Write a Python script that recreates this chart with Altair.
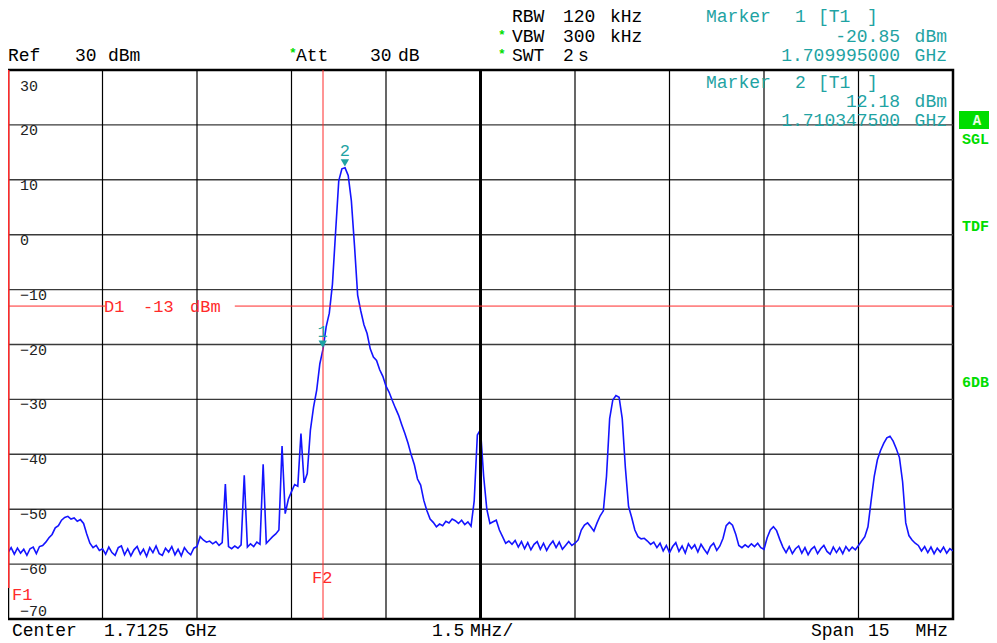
import altair as alt
import pandas as pd

# ---------------- data ----------------
START_MHZ = 0.0          # left edge offset (1.705 GHz)
STEP_MHZ = 0.05          # trace sample spacing (MHz)
SPAN_MHZ = 15.0

level_dbm = [
    # i0-10
    -57.9, -57.0, -58.2, -57.1, -58.0, -57.3, -58.4, -57.2, -56.9, -58.1, -56.8,
    # i11-30
    -56.6, -56.0, -55.2, -54.6, -53.4, -53.0, -52.0, -51.5, -51.3, -51.8,
    -51.6, -52.2, -51.9, -52.6, -54.5, -56.2, -57.0, -56.6, -57.5, -57.2,
    # i31-60
    -58.2, -56.9, -57.9, -58.4, -57.0, -56.7, -58.3, -57.2, -58.5, -57.4,
    -56.8, -58.2, -57.3, -58.6, -57.0, -57.9, -56.7, -58.1, -58.4, -57.1,
    -57.8, -56.8, -58.3, -57.3, -58.5, -57.0, -57.8, -58.3, -57.1, -56.8,
    # i61-68
    -55.0, -55.6, -56.0, -55.8, -56.3, -55.9, -56.6, -56.1,
    # i69-80
    -45.4, -56.8, -57.2, -56.7, -57.1, -56.5, -43.8, -56.9, -56.3, -56.8, -56.0, -56.4,
    # i81-92
    -41.8, -56.2, -55.6, -55.0, -54.5, -53.8, -38.5, -50.8, -48.2, -46.8, -45.5, -45.8,
    # i93-104
    -36.2, -45.2, -43.5, -35.6, -31.4, -28.3, -23.5, -20.85, -16.8, -14.3, -9.0, 0.5,
    # i105-116
    9.8, 12.0, 12.18, 10.8, 6.2, -2.0, -11.0, -13.9, -16.4, -18.0, -20.8, -22.3,
    # i117-128
    -22.9, -24.6, -25.8, -27.6, -28.7, -30.2, -31.6, -32.9, -34.6, -36.2, -38.0, -40.1,
    # i129-140
    -41.9, -44.5, -45.6, -48.4, -50.3, -51.8, -52.4, -53.2, -52.7, -53.0, -52.2, -52.5,
    # i141-152
    -51.8, -52.1, -52.6, -52.0, -52.8, -52.3, -53.1, -48.5, -36.5, -35.5, -44.0, -50.0,
    # i153-160
    -52.6, -52.3, -52.0, -53.8, -55.0, -56.2, -55.8, -56.4,
    # i161-178
    -55.7, -56.9, -55.9, -57.2, -56.1, -57.4, -56.4, -55.9, -57.3, -56.2,
    -57.5, -56.5, -55.8, -57.0, -56.0, -57.3, -56.6, -55.9,
    # i179-190
    -56.6, -56.2, -55.6, -53.8, -52.9, -52.5, -53.2, -54.0, -52.5, -51.2, -50.3, -44.0,
    # i191-206
    -33.5, -30.1, -29.3, -29.6, -33.5, -42.5, -49.5, -51.5, -53.8, -55.0, -55.4, -55.3,
    -55.8, -56.4, -56.0, -57.0,
    # i207-226
    -56.2, -57.6, -56.6, -57.9, -56.8, -56.1, -57.7, -56.7, -58.0, -56.3,
    -57.2, -56.5, -57.8, -56.4, -57.3, -58.1, -56.8, -56.2, -57.5, -56.7,
    # i227-246
    -55.3, -53.0, -52.4, -52.9, -54.5, -56.6, -57.0, -56.5, -56.9, -56.3,
    -56.8, -56.2, -57.0, -57.3, -55.2, -53.8, -53.2, -53.9, -55.5, -56.9,
    # i247-269
    -57.9, -56.8, -58.1, -57.2, -56.7, -58.0, -57.0, -58.3, -57.3, -56.8,
    -58.1, -57.2, -56.6, -57.7, -58.2, -56.9, -57.9, -57.0, -58.1, -56.8,
    -57.6, -56.9, -57.4,
    # i270-288
    -56.6, -55.8, -55.0, -53.2, -48.5, -44.0, -41.0, -39.3, -38.0, -37.0,
    -36.7, -37.6, -39.0, -40.6, -45.0, -52.5, -54.8, -55.6, -56.2,
    # i289-300
    -56.6, -57.6, -56.8, -57.9, -56.9, -58.1, -57.1, -57.8, -56.9, -58.0, -57.2, -57.6,
]
freq_mhz = [round(START_MHZ + i * STEP_MHZ, 4) for i in range(len(level_dbm))]

y_ticks = [30, 20, 10, 0, -10, -20, -30, -40, -50, -60, -70]
y_tick_labels = ["30", "20", "10", "0", "−10", "−20", "−30", "−40", "−50", "−60", "−70"]
x_grid = [i * 1.5 for i in range(11)]

marker_freq = [4.995, 5.3475]
marker_level = [-20.85, 12.18]
marker_name = ["1", "2"]

D1_LEVEL = -13
F2_FREQ = 5.0

# ---------------- styling ----------------
MONO = "Liberation Mono"
TEAL = "#1fa3a3"
GREEN = "#00dd00"
RED = "#ff2a2a"
BLUE = "#1414ff"
W, H = 945, 549

xs = alt.Scale(domain=[0, SPAN_MHZ], nice=False, zero=False)
ys = alt.Scale(domain=[-70, 30], nice=False, zero=False)

trace_df = pd.DataFrame({"f": freq_mhz, "lvl": level_dbm})
one = pd.DataFrame({"a": [0]})

# grid lines as rules
vgrid = alt.Chart(pd.DataFrame({"f": x_grid[1:-1]})).mark_rule(color="#000000", strokeWidth=1.2).encode(
    x=alt.X("f:Q", scale=xs, axis=None))
hgrid = alt.Chart(pd.DataFrame({"lvl": y_ticks[1:-1]})).mark_rule(color="#3a3a3a", strokeWidth=1.4).encode(
    y=alt.Y("lvl:Q", scale=ys, axis=None))

trace = alt.Chart(trace_df).mark_line(color=BLUE, strokeWidth=1.6, clip=True).encode(
    x=alt.X("f:Q", scale=xs, axis=None),
    y=alt.Y("lvl:Q", scale=ys, axis=None),
)

center_line = alt.Chart(pd.DataFrame({"f": [7.5]})).mark_rule(color="black", strokeWidth=3).encode(
    x=alt.X("f:Q", scale=xs, axis=None))

f2_line = alt.Chart(pd.DataFrame({"f": [F2_FREQ]})).mark_rule(color=RED, strokeWidth=1).encode(
    x=alt.X("f:Q", scale=xs, axis=None))

f1_line = alt.Chart(pd.DataFrame({"f": [0.0]})).mark_rule(color=RED, strokeWidth=3).encode(
    x=alt.X("f:Q", scale=xs, axis=None), y=alt.value(0), y2=alt.value(518))

d1_df = pd.DataFrame({"f": [0.0, 3.6], "f2": [1.54, SPAN_MHZ], "lvl": [D1_LEVEL, D1_LEVEL]})
d1_line = alt.Chart(d1_df).mark_rule(color=RED, strokeWidth=1).encode(
    x=alt.X("f:Q", scale=xs, axis=None), x2="f2:Q", y=alt.Y("lvl:Q", scale=ys, axis=None))

ylab_df = pd.DataFrame({"lvl": y_ticks, "lab": y_tick_labels})
ylab_mid = alt.Chart(ylab_df).transform_filter("datum.lvl < 30 && datum.lvl > -70").mark_text(
    align="left", baseline="middle", dy=5, font=MONO, fontSize=15, color="#222222").encode(
    x=alt.value(12), y=alt.Y("lvl:Q", scale=ys, axis=None), text="lab:N")
ylab_top = alt.Chart(ylab_df).transform_filter("datum.lvl == 30").mark_text(
    align="left", baseline="middle", dy=16, font=MONO, fontSize=15, color="#222222").encode(
    x=alt.value(12), y=alt.Y("lvl:Q", scale=ys, axis=None), text="lab:N")
ylab_bot = alt.Chart(ylab_df).transform_filter("datum.lvl == -70").mark_text(
    align="left", baseline="middle", dy=-8, font=MONO, fontSize=15, color="#222222").encode(
    x=alt.value(12), y=alt.Y("lvl:Q", scale=ys, axis=None), text="lab:N")

mk_df = pd.DataFrame({"f": marker_freq, "lvl": marker_level, "name": marker_name})
mk_tri = alt.Chart(mk_df).mark_point(shape="triangle-down", filled=True, size=70, color=TEAL,
                                     opacity=1, yOffset=-5).encode(
    x=alt.X("f:Q", scale=xs, axis=None), y=alt.Y("lvl:Q", scale=ys, axis=None))
mk_txt = alt.Chart(mk_df).mark_text(font=MONO, fontSize=17, color=TEAL, dy=-17).encode(
    x=alt.X("f:Q", scale=xs, axis=None), y=alt.Y("lvl:Q", scale=ys, axis=None), text="name:N")


def txt(s, x, y, color="black", align="left", size=18, weight="normal", font=MONO):
    return alt.Chart(one).mark_text(text=s, align=align, baseline="middle", color=color,
                                    fontSize=size, fontWeight=weight, font=font).encode(
        x=alt.value(x), y=alt.value(y))


BOT = 561
texts = [
    # header row 3
    txt("Ref", 0, -14), txt("30", 67, -14), txt("dBm", 100, -14),
    txt("*", 281, -17, color=GREEN, size=13, weight="bold"),
    txt("Att", 288, -14), txt("30", 362, -14), txt("dB", 390, -14),
    # RBW / VBW / SWT
    txt("RBW", 504, -53), txt("120", 555, -53), txt("kHz", 602, -53),
    txt("*", 490, -35, color=GREEN, size=13, weight="bold"),
    txt("VBW", 504, -33), txt("300", 555, -33), txt("kHz", 602, -33),
    txt("*", 490, -16, color=GREEN, size=13, weight="bold"),
    txt("SWT", 504, -14), txt("2", 555, -14), txt("s", 570, -14),
    # Marker 1
    txt("Marker", 698, -53, TEAL), txt("1", 787, -53, TEAL), txt("[T1", 810, -53, TEAL),
    txt("]", 859, -53, TEAL),
    txt("-20.85", 892, -33, TEAL, "right"), txt("dBm", 939, -33, TEAL, "right"),
    txt("1.709995000", 892, -14, TEAL, "right"), txt("GHz", 939, -14, TEAL, "right"),
    # Marker 2
    txt("Marker", 698, 13, TEAL), txt("2", 787, 13, TEAL), txt("[T1", 810, 13, TEAL),
    txt("]", 859, 13, TEAL),
    txt("12.18", 892, 32, TEAL, "right"), txt("dBm", 939, 32, TEAL, "right"),
    txt("1.710347500", 892, 51, TEAL, "right"), txt("GHz", 939, 51, TEAL, "right"),
    # bottom
    txt("Center", 4, BOT), txt("1.7125", 96, BOT), txt("GHz", 177, BOT),
    txt("1.5", 424, BOT), txt("MHz/", 462, BOT),
    txt("Span", 803, BOT), txt("15", 860, BOT), txt("MHz", 940, BOT, align="right"),
    # red annotations
    txt("D1", 96, 237, RED, size=17), txt("-13", 135, 237, RED, size=17),
    txt("dBm", 182, 237, RED, size=17),
    txt("F2", 304, 508, RED, size=17), txt("F1", 4, 525, RED, size=17),
    # right status column
    txt("SGL", 954, 69, GREEN, size=15, weight="bold"),
    txt("TDF", 954, 156, GREEN, size=15, weight="bold"),
    txt("6DB", 954, 312, GREEN, size=15, weight="bold"),
]

a_box = alt.Chart(one).mark_rect(color=GREEN).encode(
    x=alt.value(951), x2=alt.value(988), y=alt.value(41), y2=alt.value(59))
a_txt = txt("A", 969, 51, "#e8ffe8", "center", 14, "bold")

chart = alt.layer(
    hgrid, vgrid, trace, center_line, f2_line, d1_line, f1_line,
    ylab_mid, ylab_top, ylab_bot, mk_tri, mk_txt, a_box, a_txt, *texts,
).properties(
    width=W, height=H, autosize="none",
    padding={"left": 0, "top": 62, "right": 36, "bottom": 24},
).configure_view(stroke="black", strokeWidth=2.5)

chart.save("out.html", embed_options={"renderer": "svg", "actions": False})
